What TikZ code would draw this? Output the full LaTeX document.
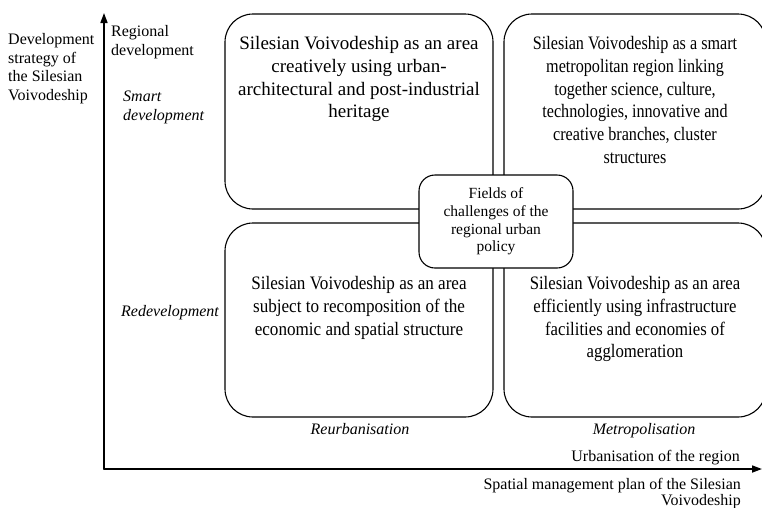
\documentclass[tikz,border=0pt]{standalone}
\usepackage{fontspec}
\setmainfont{Liberation Serif}
\usetikzlibrary{positioning,arrows.meta}

\begin{document}
\begin{tikzpicture}[x=1pt, y=-1pt, line join=round, line cap=round, >={Triangle[length=10pt,width=7pt]},
 box/.style={draw, line width=1.1pt, rounded corners=28pt, inner sep=0pt},
 boxtext/.style={align=center, inner sep=0pt, font=\fontsize{19}{22.7}\selectfont},
 lbl/.style={inner sep=0pt, font=\fontsize{16}{18.7}\selectfont},
 ilbl/.style={inner sep=0pt, font=\fontsize{16}{18.5}\selectfont\itshape}]
 \def\xmax{762} \def\ymax{507}
 \useasboundingbox (0,0) rectangle (\xmax,\ymax);
 \clip (0,0) rectangle (\xmax,\ymax);
 % axes
 \coordinate (O) at (104,469);
 \coordinate (ytop) at (104,13);
 \coordinate (xend) at (\xmax,469);
 \draw[->, line width=1.6pt] (O)--(ytop);
 \draw[->, line width=1.6pt] (O)--(xend);
 % four fields
 \node[box, minimum width=268pt, minimum height=195pt] (tl) at (359,111.5) {};
 \node[box, minimum width=262pt, minimum height=195pt] (tr) at (635,111.5) {};
 \node[box, minimum width=268pt, minimum height=194pt] (bl) at (359,320) {};
 \node[box, minimum width=262pt, minimum height=194pt] (br) at (635,320) {};
 \node[boxtext, below=23pt of tl.north] (tltext) {Silesian Voivodeship as an area\\creatively using urban-\\architectural and post-industrial\\heritage};
 \node[boxtext, xscale=0.85, below=23pt of tr.north] (trtext) {Silesian Voivodeship as a smart\\metropolitan region linking\\together science, culture,\\technologies, innovative and\\creative branches, cluster\\structures};
 \node[boxtext, xscale=0.9, below=54pt of bl.north] (bltext) {Silesian Voivodeship as an area\\subject to recomposition of the\\economic and spatial structure};
 \node[boxtext, xscale=0.88, below=54pt of br.north] (brtext) {Silesian Voivodeship as an area\\efficiently using infrastructure\\facilities and economies of\\agglomeration};
 \node[box, rounded corners=16pt, fill=white, minimum width=154pt, minimum height=93pt, align=center,
  font=\fontsize{15.5}{17.7}\selectfont] (fields) at (496,221.5) {Fields of\\challenges of the\\regional urban\\policy};
 % axis labels
 \node[lbl, align=left, anchor=north west] (strategy) at (8,33) {Development\\strategy of\\the Silesian\\Voivodeship};
 \node[lbl, align=left, anchor=north west, font=\fontsize{16}{19}\selectfont] (regdev) at (111,25) {Regional\\development};
 \node[ilbl, align=left, anchor=north west] (smart) at (123,91) {Smart\\development};
 \node[ilbl, anchor=base west] (redev) at (121,316) {Redevelopment};
 \node[ilbl, anchor=base] (reurb) at (360,434) {Reurbanisation};
 \node[ilbl, anchor=base] (metro) at (644,434) {Metropolisation};
 \node[lbl, anchor=base east] (urban) at (740,461) {Urbanisation of the region};
 \node[lbl, align=right, anchor=north east, font=\fontsize{16}{14.5}\selectfont] (plan) at (741,478) {Spatial management plan of the Silesian\\Voivodeship};
\end{tikzpicture}
\end{document}
